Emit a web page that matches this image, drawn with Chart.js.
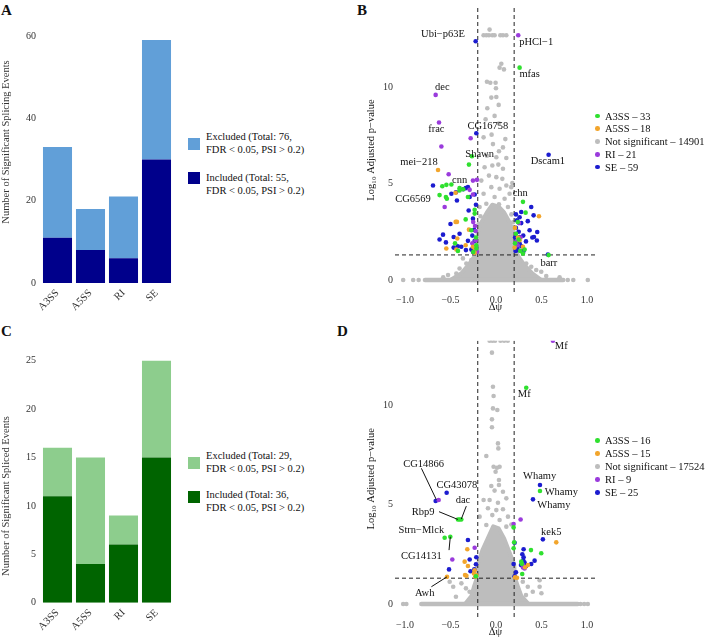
<!DOCTYPE html>
<html>
<head>
<meta charset="utf-8">
<script src="https://cdn.jsdelivr.net/npm/chart.js@4.4.1/dist/chart.umd.min.js"></script>
<style>
  body { margin: 0; background: #fff; width: 709px; height: 642px; position: relative; overflow: hidden;
         font-family: "Liberation Serif", serif; color: #111; }
  .box { position: absolute; }
  .tag { position: absolute; font-weight: bold; font-size: 15px; line-height: 15px; }
  .lg { position: absolute; font-size: 10.5px; line-height: 13px; white-space: nowrap; }
  .sw { position: absolute; width: 12px; height: 12px; }
  .row { position: absolute; font-size: 10.5px; line-height: 13px; height: 13px; white-space: nowrap; padding-left: 10px; }
  .row i { position: absolute; left: 0; top: 4.2px; width: 4.6px; height: 4.6px; border-radius: 50%; }
  .ytitle { position: absolute; font-size: 10.5px; line-height: 12px; white-space: nowrap; color: #333;
            transform: translate(-50%, -50%) rotate(-90deg); }
</style>
</head>
<body>
<div class="tag" style="left:1px;top:3px">A</div>
<div class="tag" style="left:357px;top:3px">B</div>
<div class="tag" style="left:1px;top:324px">C</div>
<div class="tag" style="left:337px;top:324px">D</div>

<div class="box" style="left:0;top:0"><canvas id="chartA" width="180" height="320"></canvas></div>
<div class="box" style="left:0;top:320px"><canvas id="chartC" width="180" height="322"></canvas></div>
<div class="box" style="left:360px;top:0"><canvas id="chartB" width="240" height="314"></canvas></div>
<div class="box" style="left:360px;top:320px"><canvas id="chartD" width="240" height="319"></canvas></div>
<div class="ytitle" style="left:6px;top:142px">Number of Significant Splicing Events</div>
<div class="ytitle" style="left:6px;top:496px">Number of Significant Spliced Events</div>
<div id="legends"></div>

<script>
// ---- bar panels (A, C) ----
const categories = ['A3SS', 'A5SS', 'RI', 'SE'];
const aIncluded = [11, 8, 6, 30];
const aExcluded = [22, 10, 15, 29];
const aTicks = [0, 20, 40, 60];
const cIncluded = [11, 4, 6, 15];
const cExcluded = [5, 11, 3, 10];
const cTicks = [0, 5, 10, 15, 20, 25];

// ---- volcano panels (B, D) ----
const dpsiTicks = [-1, -0.5, 0, 0.5, 1];
const pTicks = [0, 5, 10];
const dpsiCut = [-0.2, 0.2];
const fdrCut = 1.3;
const seriesNames = ['A3SS', 'A5SS', 'Not significant', 'RI', 'SE'];
const bCounts = [33, 18, 14901, 21, 59];
const dCounts = [16, 15, 17524, 9, 25];

const bA3SS = [[0.26,11.0],[-0.264,6.41],[-0.297,5.98],[-0.59,4.86],[-0.545,4.93],[-0.49,4.95],[-0.40,4.76],
  [-0.40,4.64],[-0.55,4.30],[-0.54,4.21],[-0.308,4.30],[-0.234,3.64],[-0.234,3.44],[-0.333,3.14],[-0.271,2.58],
  [-0.418,1.51],[-0.216,1.63],[-0.216,1.80],[0.297,4.05],[0.326,3.49],[0.315,1.58],[0.267,1.51],[0.297,1.37],
  [0.579,1.29],[-0.36,4.70],[0.22,2.4],[-0.22,2.2],[-0.45,1.9],[0.24,3.0],[-0.25,1.45],[0.21,1.9],[-0.62,4.4],[0.25,2.1]];
const bA5SS = [[-0.637,5.70],[-0.443,4.52],[-0.443,3.01],[-0.429,3.01],[-0.297,2.61],[-0.425,2.15],[-0.546,1.63],
  [-0.436,1.58],[-0.333,1.80],[-0.253,1.72],[-0.234,1.63],[-0.234,1.41],[0.473,3.30],[0.209,2.70],[0.242,2.20],
  [0.26,2.06],[0.205,1.68],[0.297,1.72]];
const bRI = [[0.245,12.68],[-0.663,9.59],[-0.626,8.16],[-0.60,6.92],[-0.278,7.34],[-0.52,5.48],[-0.253,5.15],
  [-0.209,5.19],[-0.289,4.67],[-0.253,4.43],[-0.564,3.78],[-0.223,2.54],[-0.223,2.06],[-0.209,1.46],[0.253,2.95],
  [0.223,1.98],[-0.25,3.0],[0.24,1.8],[-0.23,2.8],[0.27,2.2],[-0.26,1.9]];
const bSE = [[-0.223,12.37],[-0.216,7.6],[0.579,6.49],[-0.692,4.90],[-0.333,4.76],[-0.308,4.81],[-0.49,4.47],
  [-0.234,4.43],[-0.289,4.30],[-0.429,4.12],[-0.253,3.18],[-0.582,2.35],[-0.465,2.23],[-0.308,2.03],[-0.234,2.03],
  [-0.465,1.68],[-0.381,1.72],[-0.271,1.58],[-0.253,1.46],[0.571,1.32],[0.388,3.78],[0.278,3.52],[0.414,3.35],
  [0.231,3.09],[0.278,2.95],[0.37,2.58],[0.454,2.49],[0.26,2.23],[0.40,2.20],[0.418,2.23],[0.223,1.92],[0.26,1.89],
  [0.234,1.68],[0.304,1.51],[-0.44,4.55],[-0.36,4.70],[-0.50,2.90],[-0.40,2.40],[-0.33,1.55],[-0.24,2.6],[-0.22,1.7],
  [-0.55,1.95],[-0.30,3.6],[-0.42,1.75],[0.22,2.7],[0.25,2.5],[0.30,2.3],[0.35,3.05],[0.33,2.0],[0.21,2.2],
  [0.24,1.55],[0.28,1.75],[0.22,3.4],[0.45,2.05],[-0.26,2.3],[-0.62,2.1],[-0.22,3.9],[0.26,3.25],[0.215,1.5]];
const bGrey = [[-0.07,12.97],[-0.136,12.68],[-0.106,12.68],[-0.077,12.68],[-0.04,12.68],[-0.015,12.68],[0.048,12.68],
  [0.077,12.68],[0.114,12.68],[0.059,11.2],[0.04,11.0],[0.088,10.91],[-0.099,10.27],[-0.062,10.22],[-0.004,10.22],
  [0,9.93],[-0.051,9.45],[0.004,9.48],[0.03,9.07],[-0.095,8.9],[-0.114,8.33],[-0.015,8.5],[0.033,8.11],[-0.136,7.39],
  [-0.048,7.53],[0.103,7.30],[0.077,6.87],[-0.033,7.04],[0.033,6.67],[-0.099,6.44],[0.004,6.36],[0.114,6.32],
  [-0.125,5.84],[-0.04,5.93],[0.026,5.98],[0.077,5.76],[0.18,5.02],[0.168,4.81],[-0.077,5.41],[0.004,5.33],
  [0.07,5.24],[-0.161,5.15],[-0.051,4.81],[0.04,4.73],[0.114,4.9],[-0.136,4.47],[-0.015,4.3],[0.095,4.21],
  [0.15,4.47],[-0.106,3.95],[0.033,3.92],[0.132,3.78],[-0.18,3.78],[-0.17,3.3],[0.17,3.4],[-0.19,2.9],[0.19,3.0],
  [-0.4,0.6],[-0.326,0.86],[-0.436,0.34],[-0.271,1.03],[-0.527,0.26],[0.26,1.03],[0.333,0.86],[0.388,0.69],
  [0.443,0.52],[0.498,0.43],[0.553,0.21],[0.7,0.14],[-0.58,0.14],[-0.363,1.12],[0.223,0.69],
  [-1.02,0],[-0.91,0],[-0.85,0],[0.79,0],[0.85,0],[1.01,0]];
const bCore = [[-0.5,0],[-0.38,0.35],[-0.3,0.8],[-0.24,1.2],[-0.21,1.6],[-0.2,2.4],[-0.16,3.0],[-0.1,3.5],
  [-0.04,3.9],[0.03,3.8],[0.09,3.5],[0.15,3.0],[0.2,2.4],[0.21,1.6],[0.25,1.2],[0.31,0.8],[0.4,0.35],[0.5,0]];
const bZeroRow = [-0.78, 0.74];

const dA3SS = [[0.333,10.87],[0.484,5.68],[-0.418,4.25],[-0.40,4.25],[-0.381,4.25],[-0.564,3.33],[-0.502,3.38],
  [0.194,3.85],[0.194,2.80],[0.385,2.71],[0.498,2.55],[0.278,2.13],[0.289,1.51],[0.285,2.02],[0.20,3.1],[-0.22,1.4]];
const dA5SS = [[-0.538,1.37],[-0.315,2.75],[-0.344,2.13],[-0.308,1.91],[-0.34,1.46],[-0.325,1.42],[-0.242,1.54],
  [-0.227,1.37],[-0.215,1.45],[0.663,3.10],[0.352,1.96],[0.209,1.34],[0.231,1.32],[-0.235,1.7],[0.32,1.85]];
const dRI = [[0.626,13.23],[-0.63,5.23],[-0.48,2.24],[-0.234,2.83],[0.271,4.25],[0.194,4.02],[0.297,1.84],
  [0.315,1.79],[0.30,1.95]];
const dSE = [[0.484,5.98],[0.407,5.26],[-0.663,5.18],[-0.542,5.59],[-0.516,1.74],[-0.308,3.22],[-0.289,2.24],
  [-0.216,2.35],[-0.238,1.74],[0.516,3.25],[0.205,3.08],[0.304,2.75],[0.194,2.01],[0.304,2.35],[0.425,2.18],
  [0.315,2.08],[0.275,1.96],[0.388,2.01],[0.205,1.40],[0.30,2.2],[-0.22,2.0],[0.29,2.5],[0.22,1.6],[-0.28,1.65],[0.33,1.9]];
const dGrey = [[-0.07,13.23],[-0.04,13.23],[-0.01,13.23],[0.05,13.23],[0.09,13.23],[0.13,13.23],
  [-0.044,12.63],[-0.033,10.92],[-0.026,10.45],[-0.033,9.83],[0.015,9.75],[-0.044,9.28],[-0.044,8.88],[0.022,8.07],
  [0.026,7.82],[-0.106,7.44],[-0.026,6.9],[0.011,6.85],[0.04,6.9],[-0.004,6.65],[0.033,6.23],[0.033,5.98],
  [-0.051,5.93],[-0.015,5.7],[0.077,5.64],[-0.136,5.23],[-0.07,5.23],[0.022,5.09],[0.114,5.31],[-0.088,4.81],
  [0.004,4.72],[0.077,4.76],[-0.18,4.39],[-0.04,4.47],[0.132,4.39],[0.04,4.22],[-0.106,3.97],[0.114,3.89],[0.17,4.0],
  [-0.509,1.12],[-0.47,0.87],[-0.38,1.04],[-0.33,0.79],[-0.29,0.62],[-0.44,0.37],[-0.234,0.37],[0.295,1.12],
  [0.35,0.87],[0.405,0.62],[0.48,0.87],[0.48,1.2],[0.5,0.54],[0.33,0.45],[0.24,0.79],[0.26,0.3],
  [-1.02,0],[-0.985,0],[0.93,0],[0.97,0],[1.01,0]];
const dCore = [[-0.34,0],[-0.27,0.4],[-0.24,0.9],[-0.21,1.3],[-0.2,2.0],[-0.15,2.7],[-0.09,3.3],[-0.03,3.9],
  [0.03,3.8],[0.09,3.3],[0.14,2.7],[0.2,2.0],[0.21,1.3],[0.24,0.9],[0.28,0.4],[0.36,0]];
const dZeroRow = [-0.82, 0.9];

// gene labels (text centre, optional leader line x1,y1,x2,y2) in data units
const bLabels = [
  {t: 'Ubi−p63E', x: -0.582, y: 12.71}, {t: 'pHCl−1', x: 0.443, y: 12.34}, {t: 'mfas', x: 0.37, y: 10.65},
  {t: 'dec', x: -0.59, y: 10.0}, {t: 'frac', x: -0.656, y: 7.82}, {t: 'CG16758', x: -0.088, y: 7.94},
  {t: 'Shawn', x: -0.18, y: 6.53}, {t: 'Dscam1', x: 0.571, y: 6.13}, {t: 'mei−218', x: -0.846, y: 6.10},
  {t: 'cnn', x: -0.40, y: 5.15}, {t: 'CG6569', x: -0.912, y: 4.18}, {t: 'chn', x: 0.267, y: 4.47},
  {t: 'barr', x: 0.582, y: 0.86}
];
const dLabels = [
  {t: 'Mf', x: 0.718, y: 12.93}, {t: 'Mf', x: 0.311, y: 10.55},
  {t: 'CG14866', x: -0.795, y: 7.04, line: [-0.82, 6.82, -0.656, 5.25]},
  {t: 'CG43078', x: -0.429, y: 5.98},
  {t: 'dac', x: -0.363, y: 5.19, line: [-0.326, 4.92, -0.381, 4.27]},
  {t: 'Rbp9', x: -0.802, y: 4.59, line: [-0.626, 4.64, -0.418, 4.25]},
  {t: 'Strn−Mlck', x: -0.82, y: 3.72},
  {t: 'CG14131', x: -0.82, y: 2.38, line: [-0.516, 2.71, -0.502, 3.38]},
  {t: 'Awh', x: -0.784, y: 0.54, line: [-0.71, 0.87, -0.538, 1.37]},
  {t: 'Whamy', x: 0.48, y: 6.43}, {t: 'Whamy', x: 0.718, y: 5.64}, {t: 'Whamy', x: 0.637, y: 4.97},
  {t: 'kek5', x: 0.608, y: 3.63}
];

const seriesColors = ['#2fe02f', '#f2a52c', '#bdbdbd', '#9a3bdc', '#1c1ccf'];
const FONT = '"Liberation Serif", serif';
Chart.defaults.font.family = FONT;
Chart.defaults.color = '#333';

const geneLabels = {
  id: 'geneLabels',
  afterDatasetsDraw(chart, args, opts) {
    if (!opts.items) return;
    const {ctx, scales: {x, y}} = chart;
    ctx.save();
    ctx.font = '10.5px ' + FONT;
    ctx.fillStyle = '#111';
    ctx.strokeStyle = '#111';
    ctx.lineWidth = 1;
    ctx.textAlign = 'center';
    ctx.textBaseline = 'middle';
    opts.items.forEach(it => {
      if (it.line) {
        ctx.beginPath();
        ctx.moveTo(x.getPixelForValue(it.line[0]), y.getPixelForValue(it.line[1]));
        ctx.lineTo(x.getPixelForValue(it.line[2]), y.getPixelForValue(it.line[3]));
        ctx.stroke();
      }
      ctx.fillText(it.t, x.getPixelForValue(it.x), y.getPixelForValue(it.y));
    });
    ctx.restore();
  }
};
Chart.register(geneLabels);

function barChart(id, inc, exc, ticks, yMax, colInc, colExc, padTop, xH) {
  return new Chart(document.getElementById(id), {
    type: 'bar',
    data: {
      labels: categories,
      datasets: [
        {label: 'Included', data: inc, backgroundColor: colInc, barPercentage: 0.88, categoryPercentage: 1},
        {label: 'Excluded', data: exc, backgroundColor: colExc, barPercentage: 0.88, categoryPercentage: 1}
      ]
    },
    options: {
      responsive: false,
      animation: false,
      layout: {padding: {top: padTop, right: 7, left: 0, bottom: 0}},
      plugins: {legend: {display: false}, tooltip: {enabled: false}},
      scales: {
        x: {
          stacked: true,
          grid: {display: false, drawTicks: false},
          border: {display: false},
          ticks: {font: {size: 10.5}, minRotation: 45, maxRotation: 45, padding: 4},
          afterFit: s => { s.height = xH; }
        },
        y: {
          stacked: true, min: 0, max: yMax,
          grid: {display: false, drawTicks: false},
          border: {display: false},
          afterBuildTicks: s => { s.ticks = ticks.map(v => ({value: v})); },
          ticks: {font: {size: 10}, padding: 5},
          afterFit: s => { s.width = 41; }
        }
      }
    }
  });
}

function volcano(id, sets, grey, core, zeroRow, xMin, xMax, yMin, yMax, labels, padTop) {
  const pts = arr => arr.map(p => ({x: p[0], y: p[1]}));
  const dashed = (a, b) => ({
    data: [{x: a[0], y: a[1]}, {x: b[0], y: b[1]}], showLine: true, borderColor: '#222',
    borderWidth: 1, borderDash: [4, 3], pointRadius: 0, fill: false, order: 1
  });
  const colored = [0, 1, 3, 4].map(i => ({
    data: pts(sets[i]), backgroundColor: seriesColors[i], borderWidth: 0, pointRadius: 2.3, order: 0
  }));
  return new Chart(document.getElementById(id), {
    type: 'scatter',
    data: {
      datasets: [
        ...colored,
        dashed([dpsiCut[0], yMin], [dpsiCut[0], yMax]),
        dashed([dpsiCut[1], yMin], [dpsiCut[1], yMax]),
        dashed([xMin, fdrCut], [xMax, fdrCut]),
        {data: pts(grey), backgroundColor: seriesColors[2], borderWidth: 0, pointRadius: 2.3, order: 2},
        {data: [{x: zeroRow[0], y: 0}, {x: zeroRow[1], y: 0}], showLine: true, borderColor: seriesColors[2],
         borderWidth: 4.6, borderCapStyle: 'round', pointRadius: 0, order: 3},
        {data: pts(core), showLine: true, fill: 'shape', backgroundColor: seriesColors[2],
         borderColor: seriesColors[2], borderWidth: 4, borderJoinStyle: 'round', pointRadius: 0, order: 3}
      ]
    },
    options: {
      responsive: false,
      animation: false,
      layout: {padding: {top: padTop, right: 3.3, left: 0, bottom: 0}},
      plugins: {legend: {display: false}, tooltip: {enabled: false}, geneLabels: {items: labels}},
      scales: {
        x: {
          type: 'linear', min: xMin, max: xMax,
          grid: {display: false, drawTicks: false},
          border: {display: false},
          afterBuildTicks: s => { s.ticks = dpsiTicks.map(v => ({value: v})); },
          ticks: {font: {size: 10}, padding: 2, maxRotation: 0,
                  callback: v => (v < 0 ? '−' : '') + Math.abs(v).toFixed(1)},
          title: {display: true, text: 'Δψ', font: {size: 10.5}, color: '#111', padding: {top: 0, bottom: 0}},
          afterFit: s => { s.height = 22; }
        },
        y: {
          min: yMin, max: yMax,
          grid: {display: false, drawTicks: false},
          border: {display: false},
          afterBuildTicks: s => { s.ticks = pTicks.map(v => ({value: v})); },
          ticks: {font: {size: 10}, padding: 2},
          title: {display: true, text: 'Log₁₀ Adjusted p−value', font: {size: 10.5}, color: '#111',
                  padding: {top: 5, bottom: 0}},
          afterFit: s => { s.width = 35; }
        }
      }
    }
  });
}

barChart('chartA', aIncluded, aExcluded, aTicks, 62, '#00008b', '#619fd8', 27.7, 37);
barChart('chartC', cIncluded, cExcluded, cTicks, 26.25, '#006400', '#8dcd8d', 28.6, 39.3);
volcano('chartB', [bA3SS, bA5SS, null, bRI, bSE], bGrey, bCore, bZeroRow, -1.11, 1.10, -0.62, 14.09, bLabels, 6.7);
volcano('chartD', [dA3SS, dA5SS, null, dRI, dSE], dGrey, dCore, dZeroRow, -1.11, 1.10, -0.65, 13.23, dLabels, 20.7);

// HTML legends
const lg = document.getElementById('legends');
function barLegend(top1, top2, swTop1, swTop2, exTotal, inTotal, colInc, colExc) {
  lg.insertAdjacentHTML('beforeend',
    `<div class="sw" style="left:188px;top:${swTop1}px;background:${colExc}"></div>
     <div class="lg" style="left:206px;top:${top1}px">Excluded (Total: ${exTotal},<br>FDR &lt; 0.05, PSI &gt; 0.2)</div>
     <div class="sw" style="left:188px;top:${swTop2}px;background:${colInc}"></div>
     <div class="lg" style="left:206px;top:${top2}px">Included (Total: ${inTotal},<br>FDR &lt; 0.05, PSI &gt; 0.2)</div>`);
}
const sum = a => a.reduce((s, v) => s + v, 0);
barLegend(129.5, 171, 138, 172, sum(aExcluded), sum(aIncluded), '#00008b', '#619fd8');
barLegend(448.7, 488.4, 457, 491, sum(cExcluded), sum(cIncluded), '#006400', '#8dcd8d');

function dotLegend(top, step, counts) {
  seriesNames.forEach((n, i) => {
    lg.insertAdjacentHTML('beforeend',
      `<div class="row" style="left:595px;top:${top + i * step}px"><i style="background:${seriesColors[i]}"></i>${n} – ${counts[i]}</div>`);
  });
}
dotLegend(109.5, 12.75, bCounts);
dotLegend(434.2, 13, dCounts);
</script>
</body>
</html>
